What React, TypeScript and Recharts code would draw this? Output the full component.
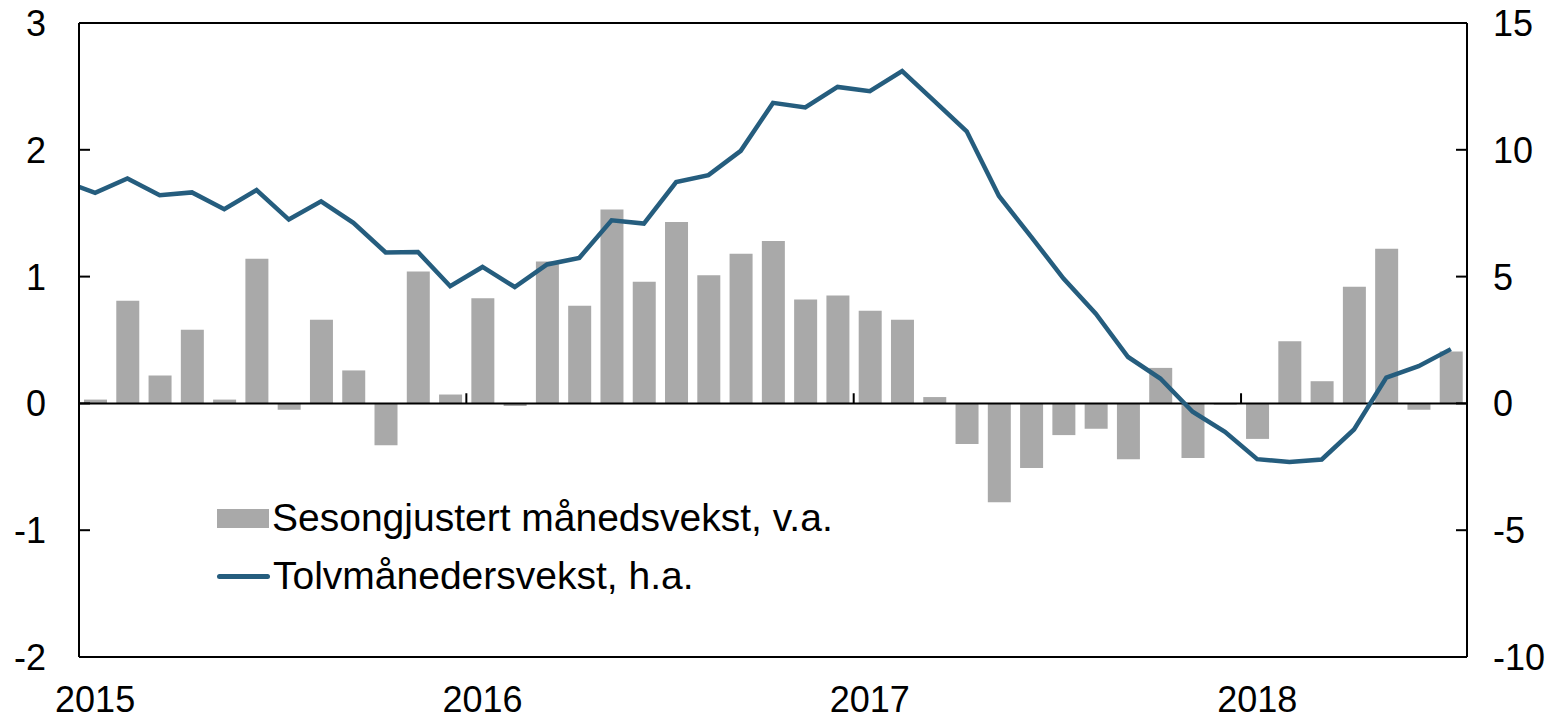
import { ComposedChart, Bar, Line, XAxis, YAxis, ReferenceLine } from 'recharts'

// Dec 2014 is only there so the line enters from the left edge (it is clipped)
const months = [
  '2014-12',
  '2015-01', '2015-02', '2015-03', '2015-04', '2015-05', '2015-06', '2015-07', '2015-08', '2015-09', '2015-10', '2015-11', '2015-12',
  '2016-01', '2016-02', '2016-03', '2016-04', '2016-05', '2016-06', '2016-07', '2016-08', '2016-09', '2016-10', '2016-11', '2016-12',
  '2017-01', '2017-02', '2017-03', '2017-04', '2017-05', '2017-06', '2017-07', '2017-08', '2017-09', '2017-10', '2017-11', '2017-12',
  '2018-01', '2018-02', '2018-03', '2018-04', '2018-05', '2018-06', '2018-07',
]

// Sesongjustert månedsvekst, v.a.
const monthlyGrowth = [
  null,
  0.03, 0.81, 0.22, 0.58, 0.03, 1.14, -0.05, 0.66, 0.26, -0.33, 1.04, 0.07,
  0.83, -0.02, 1.12, 0.77, 1.53, 0.96, 1.43, 1.01, 1.18, 1.28, 0.82, 0.85,
  0.73, 0.66, 0.05, -0.32, -0.78, -0.51, -0.25, -0.2, -0.44, 0.28, -0.43, -0.01,
  -0.28, 0.49, 0.175, 0.92, 1.22, -0.05, 0.41,
]

// Tolvmånedersvekst, h.a.
const twelveMonthGrowth = [
  8.78,
  8.3, 8.87, 8.21, 8.32, 7.66, 8.41, 7.25, 7.97, 7.12, 5.95, 5.97, 4.62,
  5.38, 4.59, 5.48, 5.74, 7.22, 7.09, 8.73, 9.0, 9.96, 11.85, 11.67, 12.48,
  12.31, 13.1, 11.92, 10.73, 8.18, 6.57, 4.92, 3.54, 1.83, 0.98, -0.33, -1.12,
  -2.2, -2.31, -2.21, -1.03, 1.02, 1.47, 2.14,
]

const leftTicks = [-2, -1, 0, 1, 2, 3]
const rightTicks = [-10, -5, 0, 5, 10, 15]

const FONT = '"Liberation Sans", Arial, sans-serif'
const BAR_COLOR = '#a9a9a9'
const LINE_COLOR = '#255d7e'

const data = months.map((m, k) => ({
  i: k - 1,
  month: m,
  monthly: monthlyGrowth[k],
  twelve: twelveMonthGrowth[k],
}))

// January positions get the year label, the boundary before them gets a tick
const yearTicks = data.filter(d => d.month.endsWith('-01')).map(d => d.i)
const yearBreaks = yearTicks.filter(i => i > 0).map(i => i - 0.5)

const yearLabel = (v: number) => {
  const d = data.find(x => x.i === v)
  return d ? d.month.slice(0, 4) : ''
}

function SideTick(props: any) {
  const { x, y, payload, side } = props
  const gap = side === 'left' ? 33 : 26
  const axisX = side === 'left' ? x + gap : x - gap
  const inward = side === 'left' ? 11 : -11
  return (
    <g>
      <line x1={axisX} x2={axisX + inward} y1={y} y2={y} stroke="#000" strokeWidth={2} />
      <text
        x={x}
        y={y}
        dy="0.36em"
        textAnchor={side === 'left' ? 'end' : 'start'}
        fontSize={36}
        fontFamily={FONT}
        fill="#000"
      >
        {payload.value}
      </text>
    </g>
  )
}

function LegendBox() {
  const row = { display: 'flex', alignItems: 'center', height: 58 }
  const label = { fontFamily: FONT, fontSize: 39, color: '#000', marginLeft: 3, whiteSpace: 'nowrap' as const }
  return (
    <div style={{ position: 'absolute', left: 217, top: 489 }}>
      <div style={row}>
        <span style={{ display: 'inline-block', width: 52, height: 19, background: BAR_COLOR }} />
        <span style={label}>Sesongjustert månedsvekst, v.a.</span>
      </div>
      <div style={row}>
        <span style={{ display: 'inline-block', width: 53, height: 5, borderRadius: 3, background: LINE_COLOR }} />
        <span style={label}>Tolvmånedersvekst, h.a.</span>
      </div>
    </div>
  )
}

export default function App() {
  return (
    <div style={{ position: 'absolute', left: 0, top: 0, width: 1564, height: 718, background: '#fff' }}>
      <ComposedChart width={1564} height={718} data={data} margin={{ top: 23, right: 0, bottom: 0, left: 0 }}>
        <XAxis
          dataKey="i"
          type="number"
          domain={[-0.5, 42.5]}
          allowDataOverflow
          ticks={yearTicks}
          tickFormatter={yearLabel}
          height={61}
          tickSize={0}
          tickMargin={29}
          axisLine={{ stroke: '#000', strokeWidth: 2 }}
          tick={{ fontSize: 36, fill: '#000', fontFamily: FONT }}
        />
        <YAxis
          yAxisId="left"
          orientation="left"
          width={79}
          domain={[-2, 3]}
          ticks={leftTicks}
          interval={0}
          tickSize={0}
          tickMargin={33}
          axisLine={{ stroke: '#000', strokeWidth: 2 }}
          tick={<SideTick side="left" />}
        />
        <YAxis
          yAxisId="right"
          orientation="right"
          width={97}
          domain={[-10, 15]}
          ticks={rightTicks}
          interval={0}
          tickSize={0}
          tickMargin={26}
          axisLine={{ stroke: '#000', strokeWidth: 2 }}
          tick={<SideTick side="right" />}
        />
        <ReferenceLine yAxisId="left" y={3} stroke="#000" strokeWidth={2} />
        <Bar yAxisId="left" dataKey="monthly" fill={BAR_COLOR} barSize={23} isAnimationActive={false} />
        <ReferenceLine yAxisId="left" y={0} stroke="#000" strokeWidth={2} />
        {yearBreaks.map(b => (
          <ReferenceLine
            key={b}
            yAxisId="left"
            segment={[{ x: b, y: 0 }, { x: b, y: 0.08 }]}
            stroke="#000"
            strokeWidth={2}
          />
        ))}
        <Line
          yAxisId="right"
          dataKey="twelve"
          stroke={LINE_COLOR}
          strokeWidth={4.5}
          dot={false}
          isAnimationActive={false}
        />
      </ComposedChart>
      <LegendBox />
    </div>
  )
}
